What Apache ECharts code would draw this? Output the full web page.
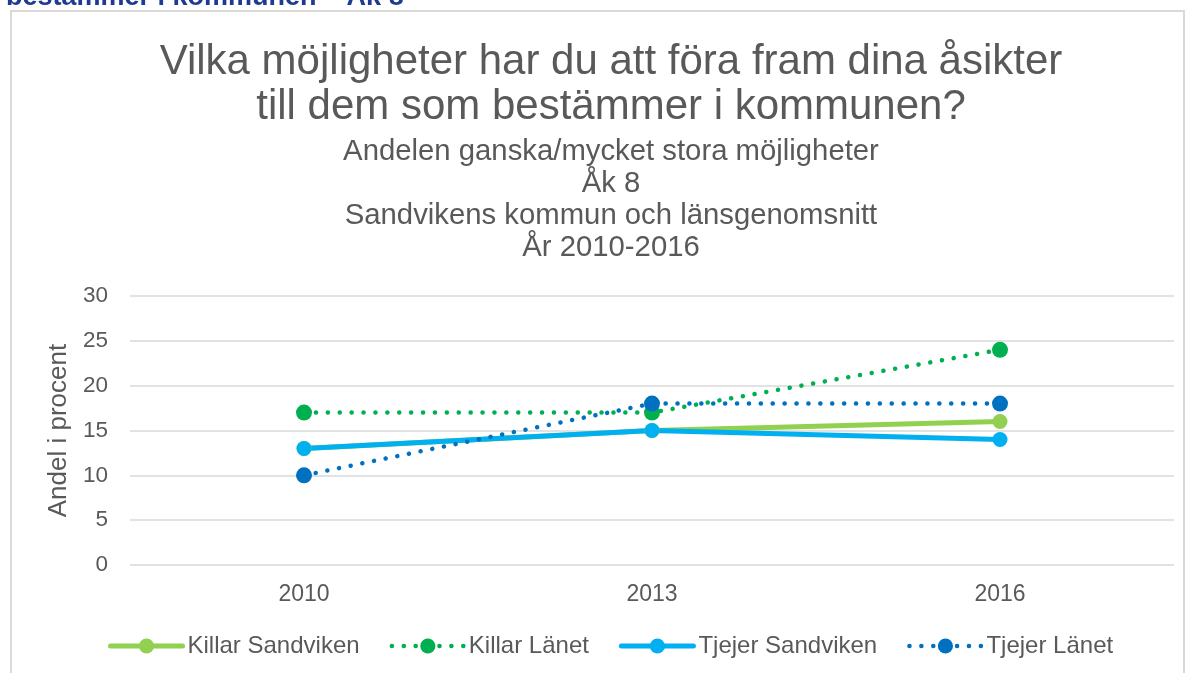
<!DOCTYPE html>
<html>
<head>
<meta charset="utf-8">
<script src="https://cdn.jsdelivr.net/npm/echarts@6/dist/echarts.min.js"></script>
<style>
  html, body { margin: 0; padding: 0; background: #fff; }
  #chart { width: 1192px; height: 673px; }
</style>
</head>
<body>
<div id="chart"></div>
<script>
var years = ['2010', '2013', '2016'];
var killarSandviken = [13, 15, 16];
var killarLanet = [17, 17, 24];
var tjejerSandviken = [13, 15, 14];
var tjejerLanet = [10, 18, 18];

var font = 'Liberation Sans, Arial, sans-serif';
var grey = '#595959';
var dots = [0.1, 11.8];

function solid(name, data, color) {
    return {
        name: name,
        type: 'line',
        data: data,
        symbol: 'circle',
        symbolSize: 15,
        itemStyle: { color: color },
        lineStyle: { color: color, width: 5, cap: 'round' }
    };
}

function dotted(name, data, color) {
    return {
        name: name,
        type: 'line',
        data: data,
        symbol: 'circle',
        symbolSize: 16,
        itemStyle: { color: color },
        lineStyle: { color: color, width: 4.5, type: dots, cap: 'round' }
    };
}

var option = {
    animation: false,
    backgroundColor: '#fff',
    title: [{
        text: 'Vilka möjligheter har du att föra fram dina åsikter\ntill dem som bestämmer i kommunen?',
        left: 606,
        textAlign: 'center',
        top: 35,
        textStyle: { fontFamily: font, fontSize: 42, fontWeight: 'normal', color: grey, lineHeight: 45 }
    }, {
        text: 'Andelen ganska/mycket stora möjligheter\nÅk 8\nSandvikens kommun och länsgenomsnitt\nÅr 2010-2016',
        left: 606,
        textAlign: 'center',
        top: 131,
        textStyle: { fontFamily: font, fontSize: 29.3, fontWeight: 'normal', color: grey, lineHeight: 32 }
    }],
    graphic: [{
        type: 'rect',
        shape: { x: 11, y: 11, width: 1173, height: 680 },
        style: { fill: 'none', stroke: '#d9d9d9', lineWidth: 2 },
        silent: true
    }, {
        type: 'text',
        left: 6,
        top: -16,
        style: { text: 'bestämmer i kommunen – Åk 8', font: 'bold 27px ' + font, fill: '#1f3a93' }
    }],
    legend: {
        top: 629,
        left: 103,
        itemWidth: 72,
        itemHeight: 19,
        itemGap: 30,
        textStyle: { fontFamily: font, fontSize: 24, color: grey },
        lineStyle: { width: 5, cap: 'round' },
        data: [
            { name: 'Killar Sandviken' },
            { name: 'Killar Länet', lineStyle: { width: 4.5, type: dots, cap: 'round' } },
            { name: 'Tjejer Sandviken' },
            { name: 'Tjejer Länet', lineStyle: { width: 4.5, type: dots, cap: 'round' } }
        ]
    },
    grid: { left: 130, right: 18, top: 296, bottom: 108 },
    xAxis: {
        type: 'category',
        data: years,
        boundaryGap: true,
        axisLine: { show: false },
        axisTick: { show: false },
        axisLabel: { fontFamily: font, fontSize: 23, color: grey, margin: 18 }
    },
    yAxis: {
        type: 'value',
        min: 0,
        max: 30,
        interval: 5,
        name: 'Andel i procent',
        nameLocation: 'middle',
        nameGap: 57,
        nameTextStyle: { fontFamily: font, fontSize: 26, color: grey },
        axisLine: { show: false },
        axisTick: { show: false },
        axisLabel: { fontFamily: font, fontSize: 22.5, color: grey, margin: 22 },
        splitLine: { lineStyle: { color: '#d9d9d9', width: 1.5 } }
    },
    series: [
        solid('Killar Sandviken', killarSandviken, '#92d050'),
        dotted('Killar Länet', killarLanet, '#00b050'),
        solid('Tjejer Sandviken', tjejerSandviken, '#00b0f0'),
        dotted('Tjejer Länet', tjejerLanet, '#0070c0')
    ]
};

var myChart = echarts.init(document.getElementById('chart'));
myChart.setOption(option);
</script>
</body>
</html>
